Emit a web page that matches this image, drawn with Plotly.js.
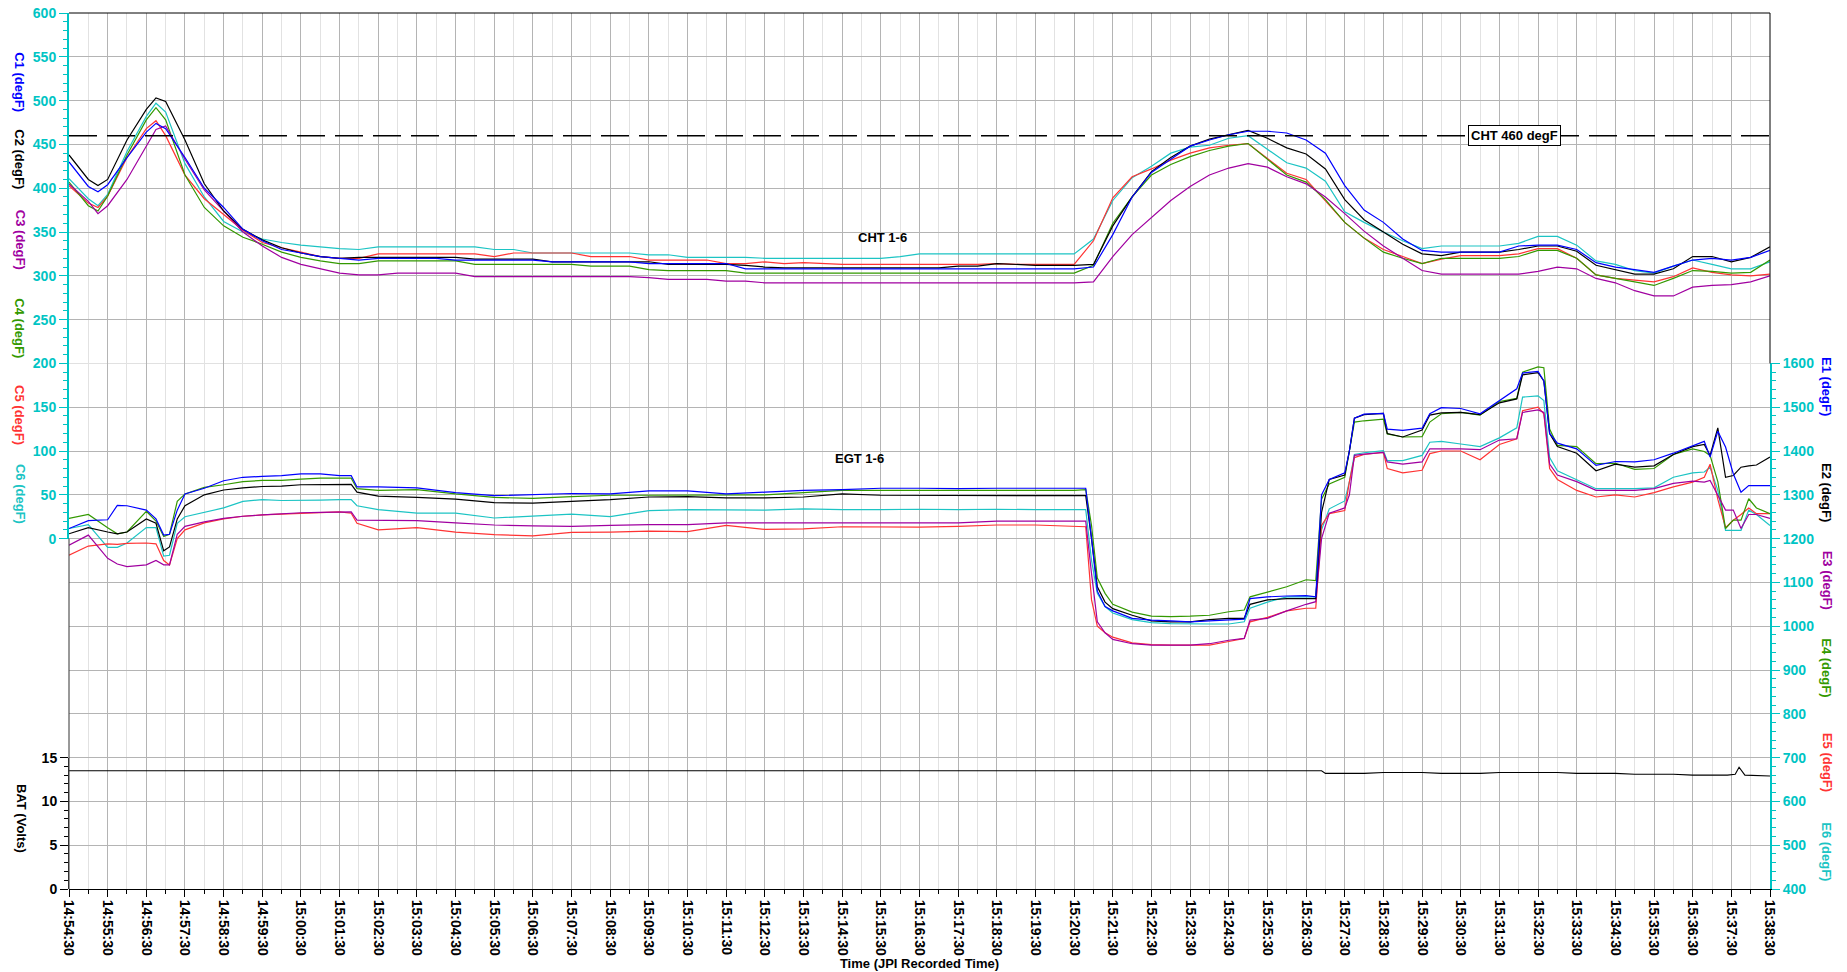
<!DOCTYPE html>
<html>
<head>
<meta charset="utf-8">
<script src="https://cdn.plot.ly/plotly-3.0.1.min.js"></script>
<style>html,body{margin:0;padding:0;background:#fff;}#chart{width:1847px;height:972px;}</style>
</head>
<body>
<div id="chart"></div>
<script>
// ---------- DATA ----------
const startClock = [14, 54, 30];           // first sample (14:54:30)
const chtLimit = 460;                      // CHT alarm line, degF

// CHT sample times (minutes after 14:54:30)
const chtMinutes = [0,0.5,0.75,1,1.5,2,2.25,2.5,3,3.5,4,4.5,
  5,5.5,6,6.5,7,7.5,8,8.5,9,9.5,
  10,10.5,11,11.5,12,12.5,13,13.5,14,14.5,15,15.5,16,16.5,17,17.5,18,18.5,19,19.5,
  20,20.5,21,21.5,22,22.5,23,23.5,24,24.5,25,25.5,26,26.5,27,27.5,28,28.5,29,29.5,
  30,30.5,31,31.5,32,32.5,33,33.5,34,34.5,35,35.5,36,36.5,37,37.5,38,38.5,39,39.5,
  40,40.5,41,41.5,42,42.5,43,43.5,44];

const C1 = [430,402,396,404,435,464,474,468,435,400,378,353,
  340,330,326,322,320,318,320,320,320,320,
  318,318,318,318,318,316,316,316,316,316, 314,314,314,314,314,308,308,308,308,308,
  308,308,308,308,308,308,308,308,308,308, 308,308,308,310,347,390,418,433,448,455,
  461,465,465,463,455,440,403,375,361,342, 329,327,327,327,327,334,335,335,330,315,
  310,307,304,311,318,320,318,321,329];
const C2 = [438,410,403,410,455,490,503,499,455,405,374,353,
  341,332,326,322,320,321,321,321,321,321,
  321,319,319,319,319,316,316,316,316,316, 316,313,313,313,313,312,310,309,309,309,
  309,309,309,309,309,309,311,311,314,313, 312,312,312,313,357,390,419,435,448,456,
  461,466,457,446,439,422,387,364,350,336, 325,323,327,327,327,330,334,334,328,312,
  307,302,302,308,322,322,316,321,333];
const C3 = [405,385,371,380,410,448,467,471,433,398,374,350,
  334,321,313,308,303,301,301,303,303,303,
  303,299,299,299,299,299,299,299,299,299, 298,296,296,296,294,294,292,292,292,292,
  292,292,292,292,292,292,292,292,292,292, 292,292,292,293,322,347,366,386,402,415,
  423,428,424,413,405,390,371,351,334,320, 306,302,302,302,302,302,305,310,308,297,
  292,283,277,277,287,289,290,293,300];
const C4 = [407,380,374,391,438,478,492,478,415,378,357,344,
  336,327,321,317,314,314,317,317,317,317,
  317,313,313,313,313,313,313,311,311,311, 307,306,306,306,306,303,303,303,303,303,
  303,303,303,303,303,303,303,303,303,303, 303,303,303,312,360,390,415,427,436,443,
  448,451,433,415,407,387,361,343,327,320, 314,320,320,320,320,322,329,329,320,301,
  297,293,289,297,306,305,303,304,318];
const C5 = [403,383,378,391,435,468,477,460,415,388,370,352,
  338,332,327,322,320,320,325,325,325,325,
  325,325,322,326,326,326,326,322,322,322, 318,318,318,318,314,314,316,314,315,314,
  313,313,313,313,313,313,313,313,314,313, 313,313,313,340,389,413,422,432,440,446,
  449,451,434,417,410,386,361,343,330,322, 314,319,323,323,323,325,331,331,320,301,
  297,295,293,299,309,304,301,300,302];
const C6 = [411,388,380,393,442,482,497,487,428,390,362,350,
  342,338,335,333,331,330,333,333,333,333,
  333,333,330,330,326,326,326,326,326,326, 324,324,321,321,321,321,320,320,320,320,
  320,320,320,322,325,325,325,325,325,325, 325,325,325,342,386,412,425,440,447,449,
  457,460,445,429,423,408,373,361,350,340, 331,334,334,334,334,337,345,345,335,317,
  313,306,303,311,318,313,308,308,316];

// EGT sample times (minutes after 14:54:30)
const egtMinutes = [0,0.5,1,1.25,1.5,2,2.25,2.45,2.6,2.8, 3,3.5,4,4.5,5,5.5,6,6.5,7,7.3,
  7.45,8,9,10,11,12,13,14,15,16, 17,18,19,20,21,22,23,24,25,26,
  26.3,26.45,26.6,26.8,27,27.5,28,28.5,29,29.5, 30,30.4,30.55,31,31.5,32,32.25,32.4,32.6,33,
  33.12,33.25,33.5,34,34.1,34.5,35,35.2,35.5,36, 36.5,37,37.45,37.6,38,38.15,38.3,38.5,39,39.5,
  40,40.5,41,41.5,42,42.3,42.45,42.65,42.85,43.05, 43.25,43.45,43.65,44];

const E1 = [1223,1241,1243,1276,1275,1265,1245,1208,1210,1265, 1302,1315,1332,1340,1342,1344,1348,1348,1344,1344,
  1318,1318,1316,1305,1298,1300,1303,1302,1309,1309, 1302,1306,1310,1312,1315,1315,1314,1315,1315,1315,
  1315,1200,1080,1045,1035,1018,1014,1012,1010,1012, 1014,1016,1063,1067,1069,1070,1067,1300,1335,1350,
  1400,1475,1484,1486,1450,1447,1452,1485,1499,1497, 1485,1515,1542,1578,1582,1560,1440,1418,1405,1367,
  1376,1375,1380,1395,1412,1422,1386,1445,1409,1348, 1306,1321,1321,1321];
const E2 = [1211,1225,1215,1211,1215,1245,1235,1172,1181,1245, 1275,1300,1311,1316,1319,1320,1323,1324,1324,1324,
  1306,1297,1294,1290,1282,1281,1285,1289,1295,1296, 1293,1293,1295,1302,1299,1299,1298,1299,1299,1299,
  1298,1200,1090,1055,1040,1025,1012,1010,1010,1015, 1018,1018,1050,1060,1063,1063,1063,1260,1335,1345,
  1400,1475,1483,1486,1440,1432,1448,1482,1487,1488, 1483,1510,1519,1574,1579,1560,1440,1410,1395,1355,
  1370,1363,1366,1392,1410,1415,1390,1453,1340,1344, 1363,1366,1368,1386];
const E3 = [1185,1208,1155,1142,1136,1140,1150,1140,1140,1210, 1228,1238,1246,1251,1254,1257,1259,1260,1261,1261,
  1242,1242,1241,1236,1231,1229,1228,1230,1232,1232, 1236,1236,1236,1236,1236,1236,1236,1240,1240,1240,
  1240,1120,1010,985,970,960,957,957,957,960, 968,972,1014,1018,1035,1050,1056,1200,1258,1270,
  1300,1390,1393,1397,1375,1370,1375,1405,1405,1405, 1403,1425,1428,1488,1494,1488,1370,1345,1330,1310,
  1310,1310,1314,1326,1331,1329,1333,1298,1265,1265, 1223,1255,1255,1246];
const E4 = [1246,1255,1225,1211,1215,1262,1240,1205,1210,1285, 1302,1317,1323,1330,1333,1333,1336,1338,1338,1338,
  1314,1310,1312,1302,1294,1292,1296,1299,1299,1299, 1299,1300,1305,1310,1310,1310,1310,1310,1310,1310,
  1312,1230,1110,1075,1050,1032,1023,1022,1023,1025, 1033,1037,1067,1078,1090,1106,1104,1290,1325,1340,
  1400,1466,1469,1473,1439,1432,1433,1466,1485,1488, 1482,1513,1520,1580,1592,1590,1450,1413,1410,1371,
  1372,1358,1360,1392,1405,1399,1390,1330,1223,1242, 1242,1291,1270,1257];
const E5 = [1162,1183,1188,1187,1189,1190,1188,1150,1140,1200, 1220,1236,1245,1251,1254,1256,1258,1260,1261,1258,
  1235,1220,1225,1215,1209,1206,1214,1215,1217,1216, 1230,1221,1222,1227,1227,1226,1228,1231,1231,1227,
  1227,1060,1000,985,975,962,958,957,957,957, 965,972,1010,1020,1035,1041,1041,1230,1257,1264,
  1330,1385,1392,1397,1360,1350,1356,1394,1400,1400, 1380,1415,1428,1492,1500,1485,1360,1335,1310,1295,
  1300,1295,1305,1318,1329,1340,1370,1290,1225,1242, 1255,1270,1257,1257];
const E6 = [1223,1232,1180,1180,1190,1225,1225,1160,1162,1235, 1250,1260,1270,1285,1289,1287,1287,1288,1289,1289,
  1275,1266,1258,1258,1247,1251,1256,1250,1264,1266, 1266,1265,1268,1266,1266,1267,1266,1267,1266,1266,
  1266,1150,1075,1045,1030,1015,1008,1006,1005,1005, 1005,1010,1041,1055,1067,1067,1067,1220,1268,1286,
  1330,1392,1396,1401,1378,1378,1390,1420,1422,1416, 1410,1430,1453,1523,1526,1515,1385,1355,1335,1314,
  1314,1314,1316,1340,1350,1352,1363,1310,1219,1219, 1219,1265,1255,1230];

// Battery voltage
const batMinutes = [0,32.4,32.5,33.5,34,35,35.5,36.5,37,38.5,39,40,40.5,41.5,42,42.9,43.1,43.2,43.35,44];
const BAT = [13.5,13.5,13.2,13.2,13.3,13.3,13.2,13.2,13.3,13.3,13.2,13.2,13.1,13.1,13.0,13.0,13.1,13.9,13.0,12.9];

// Labels
const chtNames = ['C1 (degF)','C2 (degF)','C3 (degF)','C4 (degF)','C5 (degF)','C6 (degF)'];
const egtNames = ['E1 (degF)','E2 (degF)','E3 (degF)','E4 (degF)','E5 (degF)','E6 (degF)'];
const batName = 'BAT (Volts)';
const xTitle = 'Time (JPI Recorded Time)';
const groupLabels = ['CHT 1-6', 'EGT 1-6', 'Voltage'];
const limitLabel = 'CHT 460 degF';

// ---------- STYLE ----------
const colors = ['#0000ff', '#000000', '#a000a0', '#339900', '#ff3333', '#1cc4c4'];
const cyan = '#00c4c4';
const FONT = 'Liberation Sans, Arial, sans-serif';
const grid = '#b4b4b4';

const base = Date.UTC(2023, 0, 1, startClock[0], startClock[1], startClock[2]);
const toX = m => base + m * 60000;
const totalMin = 44;

const chtSeries = [C1, C2, C3, C4, C5, C6];
const egtSeries = [E1, E2, E3, E4, E5, E6];

const traces = [];
for (let i = 5; i >= 0; i--) {
  traces.push({x: chtMinutes.map(toX), y: chtSeries[i], type: 'scatter', mode: 'lines',
    name: chtNames[i], yaxis: 'y', line: {color: colors[i], width: 1.2}, hoverinfo: 'skip'});
}
for (let i = 5; i >= 0; i--) {
  traces.push({x: egtMinutes.map(toX), y: egtSeries[i], type: 'scatter', mode: 'lines',
    name: egtNames[i], yaxis: 'y2', line: {color: colors[i], width: 1.2}, hoverinfo: 'skip'});
}
traces.push({x: batMinutes.map(toX), y: BAT, type: 'scatter', mode: 'lines', name: batName,
  yaxis: 'y3', line: {color: '#000', width: 1.1}, hoverinfo: 'skip'});

const tickFont = c => ({family: FONT, size: 14, color: c, weight: 'bold'});
const labFont = c => ({family: FONT, size: 13, color: c, weight: 'bold'});

const annotations = [];
const chtLabelY = [0.921, 0.833, 0.741, 0.640, 0.541, 0.451];
chtNames.forEach((t, i) => annotations.push({text: t, xref: 'paper', yref: 'paper', x: -0.0288, y: chtLabelY[i],
  textangle: 90, showarrow: false, font: labFont(colors[i]), xanchor: 'center', yanchor: 'middle'}));
const egtLabelY = [0.573, 0.452, 0.352, 0.252, 0.144, 0.042];
egtNames.forEach((t, i) => annotations.push({text: t, xref: 'paper', yref: 'paper', x: 1.0335, y: egtLabelY[i],
  textangle: 90, showarrow: false, font: labFont(colors[i]), xanchor: 'center', yanchor: 'middle'}));
annotations.push({text: batName, xref: 'paper', yref: 'paper', x: -0.0276, y: 0.081, textangle: 90,
  showarrow: false, font: labFont('#000'), xanchor: 'center', yanchor: 'middle'});
annotations.push({text: groupLabels[0], xref: 'x', yref: 'y', x: toX(21.05), y: 344, showarrow: false, font: labFont('#000')});
annotations.push({text: groupLabels[1], xref: 'x', yref: 'y2', x: toX(20.45), y: 1384, showarrow: false, font: labFont('#000')});
annotations.push({text: groupLabels[2], xref: 'x', yref: 'y3', x: toX(20.6), y: 15.6, showarrow: false, font: labFont('#000')});
annotations.push({text: limitLabel, xref: 'x', yref: 'y', x: toX(37.38), y: chtLimit, showarrow: false,
  font: labFont('#000'), bgcolor: '#fff', bordercolor: '#000', borderwidth: 1, borderpad: 2});

const shapes = [
  {type: 'line', xref: 'paper', yref: 'y', x0: 0, x1: 1, y0: chtLimit, y1: chtLimit, layer: 'above',
   line: {color: '#000', width: 1.5, dash: '28px,10px'}},
  {type: 'line', xref: 'paper', yref: 'paper', x0: 0, x1: 1, y0: 1, y1: 1, layer: 'above', line: {color: '#000', width: 1}},
  {type: 'line', xref: 'paper', yref: 'paper', x0: 1, x1: 1, y0: 0.6, y1: 1, layer: 'above', line: {color: '#000', width: 1}},
  {type: 'line', xref: 'paper', yref: 'paper', x0: 0, x1: 0, y0: 0, y1: 0.4, layer: 'above', line: {color: '#333', width: 1}}
];

const layout = {
  width: 1847, height: 972,
  margin: {l: 69, r: 77, t: 13, b: 83},
  paper_bgcolor: '#fff', plot_bgcolor: '#fff',
  showlegend: false,
  font: {family: FONT, size: 13, color: '#000'},
  xaxis: {
    type: 'date', range: [toX(0), toX(totalMin)], anchor: 'y2',
    tick0: toX(0), dtick: 60000, tickformat: '%H:%M:%S', tickangle: 90,
    ticks: 'outside', ticklen: 7, tickcolor: '#000', tickwidth: 1,
    showline: true, linecolor: '#000', linewidth: 1,
    showgrid: true, gridcolor: grid, gridwidth: 1, zeroline: false,
    minor: {tick0: toX(0.5), dtick: 60000, ticks: 'outside', ticklen: 4, tickcolor: '#000',
            showgrid: true, gridcolor: '#e2e2e2', gridwidth: 1},
    tickfont: tickFont('#000'),
    title: {text: xTitle, font: labFont('#000'), standoff: 0},
    automargin: false
  },
  yaxis: {
    domain: [0.4, 1], range: [0, 600], anchor: 'x', side: 'left',
    tick0: 0, dtick: 50, ticks: 'outside', ticklen: 8, tickcolor: cyan, tickwidth: 1,
    showline: true, linecolor: cyan, linewidth: 2,
    showgrid: true, gridcolor: grid, zeroline: false,
    minor: {dtick: 10, ticks: 'outside', ticklen: 4, tickcolor: cyan, showgrid: false},
    tickfont: tickFont(cyan), automargin: false
  },
  yaxis2: {
    domain: [0, 0.6], range: [400, 1600], anchor: 'x', side: 'right',
    tick0: 400, dtick: 100, ticks: 'outside', ticklen: 8, tickcolor: cyan, tickwidth: 1,
    showline: true, linecolor: cyan, linewidth: 2,
    showgrid: true, gridcolor: grid, zeroline: false,
    minor: {dtick: 20, ticks: 'outside', ticklen: 4, tickcolor: cyan, showgrid: false},
    tickfont: tickFont(cyan), automargin: false
  },
  yaxis3: {
    domain: [0, 0.15], range: [0, 15], anchor: 'x', side: 'left',
    tick0: 0, dtick: 5, ticks: 'outside', ticklen: 8, tickcolor: '#000', tickwidth: 1,
    showline: true, linecolor: '#333', linewidth: 1,
    showgrid: true, gridcolor: grid, zeroline: false,
    minor: {dtick: 1, ticks: 'outside', ticklen: 4, tickcolor: '#000', showgrid: false},
    tickfont: tickFont('#000'), automargin: false
  },
  annotations: annotations,
  shapes: shapes
};

Plotly.newPlot('chart', traces, layout, {staticPlot: true, displayModeBar: false});
</script>
</body>
</html>
